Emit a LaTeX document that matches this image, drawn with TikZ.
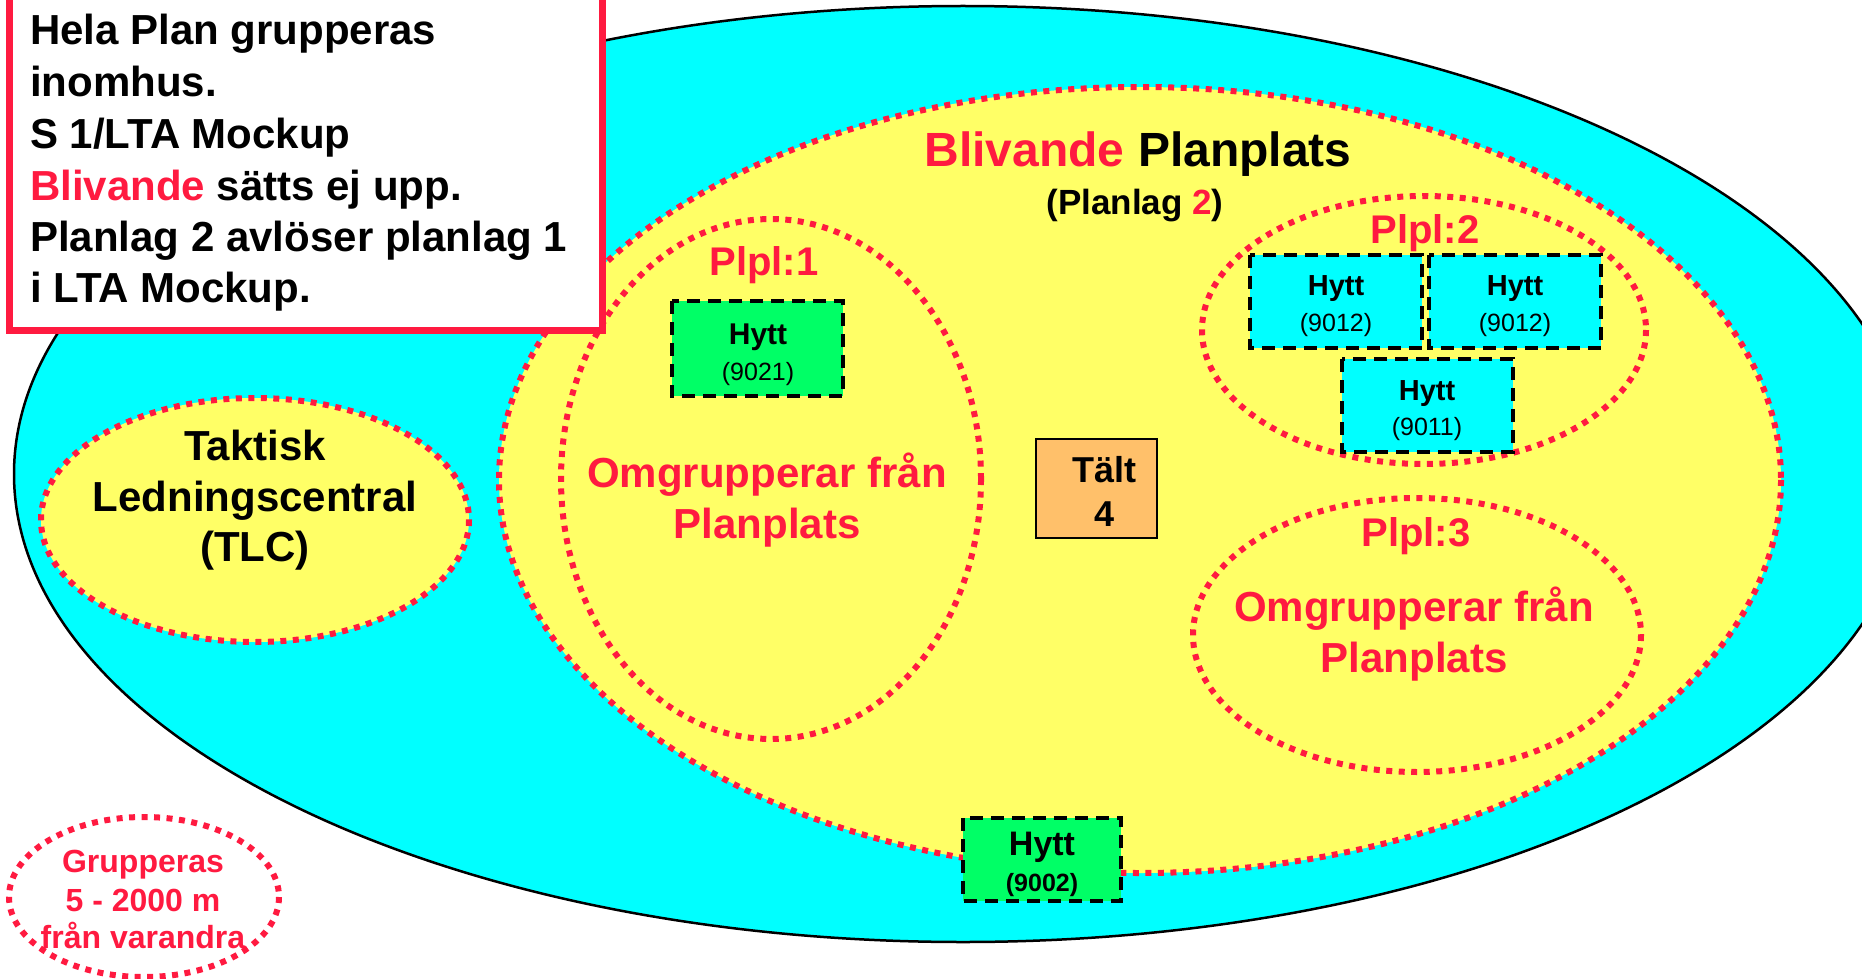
\documentclass[tikz,border=0pt]{standalone}
\usepackage{fontspec}
\setmainfont{Liberation Sans}
\definecolor{myred}{RGB}{255,26,64}
\definecolor{mycyan}{RGB}{0,255,255}
\definecolor{myyellow}{RGB}{255,255,102}
\definecolor{mygreen}{RGB}{0,255,102}
\definecolor{myorange}{RGB}{255,192,106}
\newcommand{\fsz}[1]{\fontsize{#1}{#1}\selectfont}
\tikzset{
  reddots/.style={draw=myred, line width=6pt, dash pattern=on 6pt off 6.5pt},
  hyttbox/.style={draw=black, line width=3.5pt, dash pattern=on 13pt off 8pt},
  txt/.style={inner sep=0pt, anchor=base},
  ltxt/.style={inner sep=0pt, anchor=base west},
  bigb/.style={font=\fsz{42}\bfseries},
  hyttb/.style={font=\fsz{29}\bfseries},
  numr/.style={font=\fsz{25}}
}
\begin{document}
\begin{tikzpicture}[x=1pt,y=-1pt]
\useasboundingbox (0,0) rectangle (1862,979);
\clip (0,0) rectangle (1862,979);
% outer cyan area
\draw[fill=mycyan, line width=2.5pt] (963,474) ellipse [x radius=949, y radius=468];
% yellow Blivande Planplats
\fill[myyellow] (1140,480) ellipse [x radius=641, y radius=393];
\draw[reddots] (1140,480) ellipse [x radius=641, y radius=393];
% Plpl ellipses
\draw[reddots] (771,479) ellipse [x radius=210, y radius=260];
\draw[reddots] (1424,330) ellipse [x radius=222, y radius=134];
\draw[reddots] (1417,635) ellipse [x radius=224, y radius=137];
% TLC
\fill[myyellow] (255,520) ellipse [x radius=214, y radius=122];
\draw[reddots] (255,520) ellipse [x radius=214, y radius=122];
% Grupperas
\draw[reddots] (144,897) ellipse [x radius=135, y radius=80];
% info box
\draw[draw=myred, line width=7pt, fill=white] (9,-20) rectangle (602,330);
\node[ltxt, bigb] (i1) at (30,45) {Hela Plan grupperas};
\node[ltxt, bigb] (i2) at (30,97) {inomhus.};
\node[ltxt, bigb] (i3) at (30,148) {S 1/LTA Mockup};
\node[ltxt, bigb] (i4) at (30,200) {\textcolor{myred}{Blivande} sätts ej upp.};
\node[ltxt, bigb] (i5) at (30,251) {Planlag 2 avlöser planlag 1};
\node[ltxt, bigb] (i6) at (30,302) {i LTA Mockup.};
% titles
\node[txt, font=\fsz{48}\bfseries] (title) at (1138,166) {\textcolor{myred}{Blivande} Planplats};
\node[txt, font=\fsz{35}\bfseries] (sub) at (1135,214) {(Planlag \textcolor{myred}{2})};
\node[txt, font=\fsz{40}\bfseries, text=myred] (p1) at (764,275) {Plpl:1};
\node[txt, font=\fsz{40}\bfseries, text=myred] (p2) at (1425,243) {Plpl:2};
\node[txt, font=\fsz{40}\bfseries, text=myred] (p3) at (1416,546) {Plpl:3};
\node[txt, bigb, text=myred] (o1a) at (767,487) {Omgrupperar från};
\node[txt, bigb, text=myred] (o1b) at (767,538) {Planplats};
\node[txt, bigb, text=myred] (o3a) at (1414,621) {Omgrupperar från};
\node[txt, bigb, text=myred] (o3b) at (1414,672) {Planplats};
% TLC text
\node[txt, bigb] (t1) at (255,460) {Taktisk};
\node[txt, bigb] (t2) at (255,511) {Ledningscentral};
\node[txt, bigb] (t3) at (255,561) {(TLC)};
% Grupperas text
\node[txt, font=\fsz{32}\bfseries, text=myred] (g1) at (143,872) {Grupperas};
\node[txt, font=\fsz{32}\bfseries, text=myred] (g2) at (143,911) {5 - 2000 m};
\node[txt, font=\fsz{32}\bfseries, text=myred] (g3) at (143,948) {från varandra};
% Hytt boxes
\draw[hyttbox, fill=mygreen] (672,301) rectangle (843,396);
\node[txt, font=\fsz{30}\bfseries] (h1a) at (758,344) {Hytt};
\node[txt, numr] (h1b) at (758,380) {(9021)};
\draw[hyttbox, fill=mycyan] (1250,255) rectangle (1422,348);
\node[txt, hyttb] (h2a) at (1336,295) {Hytt};
\node[txt, numr] (h2b) at (1336,331) {(9012)};
\draw[hyttbox, fill=mycyan] (1429,255) rectangle (1601,348);
\node[txt, hyttb] (h3a) at (1515,295) {Hytt};
\node[txt, numr] (h3b) at (1515,331) {(9012)};
\draw[hyttbox, fill=mycyan] (1342,359) rectangle (1513,452);
\node[txt, hyttb] (h4a) at (1427,400) {Hytt};
\node[txt, numr] (h4b) at (1427,435) {(9011)};
\draw[hyttbox, fill=mygreen] (963,818) rectangle (1121,901);
\node[txt, font=\fsz{34}\bfseries] (h5a) at (1042,855) {Hytt};
\node[txt, font=\fsz{25}\bfseries] (h5b) at (1042,891) {(9002)};
% Tält
\draw[fill=myorange, line width=2pt] (1036,439) rectangle (1157,538);
\node[txt, font=\fsz{36}\bfseries] (ta) at (1104,482) {Tält};
\node[txt, font=\fsz{36}\bfseries] (tb) at (1104,526) {4};
\end{tikzpicture}
\end{document}
